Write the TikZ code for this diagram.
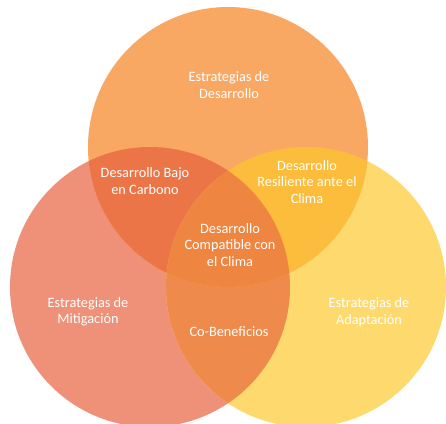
\documentclass[tikz,border=0pt]{standalone}
\usepackage{fontspec}
\setmainfont{Carlito}
\definecolor{cTop}{HTML}{F9A864}
\definecolor{cLeft}{HTML}{EE9178}
\definecolor{cRight}{HTML}{FDD96E}
\definecolor{cTL}{HTML}{EC7548}
\definecolor{cTR}{HTML}{FCBC3C}
\definecolor{cLR}{HTML}{EE8A4C}
\definecolor{cAll}{HTML}{EE8540}
\tikzset{
  lbl/.style={text=white, align=center, font=\fontsize{14.3}{16.5}\selectfont, inner sep=0pt}
}
\begin{document}
\begin{tikzpicture}[x=1pt,y=-1pt]
\useasboundingbox (0,0) rectangle (446,423);
\def\R{140}
\coordinate (T) at (228,147);
\coordinate (L) at (150,287);
\coordinate (Rt) at (306,287);
\begin{scope}
\clip (0,0) rectangle (446,423);
\fill[cLeft] (L) circle (\R);
\fill[cRight] (Rt) circle (\R);
\fill[cTop] (T) circle (\R);
\begin{scope}
  \clip (L) circle (\R);
  \fill[cLR] (Rt) circle (\R);
\end{scope}
\begin{scope}
  \clip (T) circle (\R);
  \fill[cTL] (L) circle (\R);
\end{scope}
\begin{scope}
  \clip (T) circle (\R);
  \fill[cTR] (Rt) circle (\R);
\end{scope}
\begin{scope}
  \clip (T) circle (\R);
  \clip (L) circle (\R);
  \fill[cAll] (Rt) circle (\R);
\end{scope}
\end{scope}
\node[lbl] (dev) at (229,85) {Estrategias de\\Desarrollo};
\node[lbl] (low) at (145,181) {Desarrollo Bajo\\en Carbono};
\node[lbl] (res) at (307,182) {Desarrollo\\Resiliente ante el\\Clima};
\node[lbl] (comp) at (230,245) {Desarrollo\\Compatible con\\el Clima};
\node[lbl] (mit) at (88,312) {Estrategias de\\Mitigación};
\node[lbl] (cob) at (229,332) {Co-Beneficios};
\node[lbl] (ada) at (369,312) {Estrategias de\\Adaptación};
\end{tikzpicture}
\end{document}
